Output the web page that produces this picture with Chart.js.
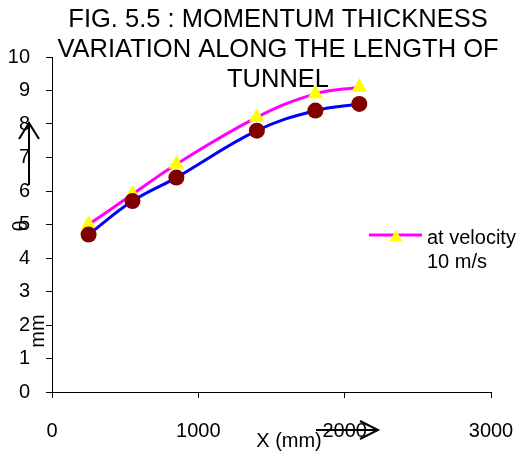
<!DOCTYPE html>
<html>
<head>
<meta charset="utf-8">
<script src="https://cdn.jsdelivr.net/npm/chart.js@4/dist/chart.umd.min.js"></script>
<style>
  html, body { margin: 0; padding: 0; background: #fff; }
  #wrap { width: 522px; height: 452px; }
</style>
</head>
<body>
<div id="wrap"><canvas id="thetaChart" width="522" height="452"></canvas></div>
<script>
// distance along the tunnel (mm) and momentum thickness (mm)
var xPos = [250, 550, 850, 1400, 1800, 2100];
var theta10 = [5.0, 5.9, 6.8, 8.2, 8.9, 9.1];
var thetaOther = [4.7, 5.7, 6.4, 7.8, 8.4, 8.6];

var titleLines = ["FIG. 5.5 : MOMENTUM THICKNESS", "VARIATION ALONG THE LENGTH OF", "TUNNEL"];
var legendLines = ["at velocity", "10 m/s"];

var FONT = "'Liberation Sans', Arial, sans-serif";
Chart.defaults.font.family = FONT;
Chart.defaults.color = "#000";

function toPoints(xs, ys){
    var pts = [];
    for(var i=0; i<xs.length; i++){
        pts.push({x: xs[i], y: ys[i]});
    }
    return pts;
}

// title, legend and the axis captions with arrows sit on top of the plot
var overlay = {
    id: "overlay",
    afterDraw: function(chart){
        var ctx = chart.ctx;
        ctx.save();
        ctx.fillStyle = "#000";
        ctx.textAlign = "center";
        ctx.textBaseline = "middle";
        ctx.font = "25.5px " + FONT;
        var ty = [20, 50, 80];
        for(var i=0; i<titleLines.length; i++){
            ctx.fillText(titleLines[i], 278, ty[i]);
        }

        // legend entry
        ctx.strokeStyle = "#ff00ff";
        ctx.lineWidth = 3;
        ctx.beginPath();
        ctx.moveTo(369, 235);
        ctx.lineTo(422, 235);
        ctx.stroke();
        ctx.fillStyle = "#ffff00";
        ctx.beginPath();
        ctx.moveTo(396, 230);
        ctx.lineTo(402.5, 241);
        ctx.lineTo(389.5, 241);
        ctx.closePath();
        ctx.fill();
        ctx.fillStyle = "#000";
        ctx.textAlign = "left";
        ctx.font = "20px " + FONT;
        ctx.fillText(legendLines[0], 427, 238);
        ctx.fillText(legendLines[1], 427, 262);

        // x axis caption
        ctx.textAlign = "center";
        ctx.fillText("X (mm)", 289, 441);
        ctx.strokeStyle = "#000";
        ctx.lineWidth = 2;
        ctx.beginPath();
        ctx.moveTo(316, 430);
        ctx.lineTo(378, 430);
        ctx.moveTo(360, 421);
        ctx.lineTo(378, 430);
        ctx.lineTo(360, 439);
        ctx.stroke();

        // y axis caption
        ctx.beginPath();
        ctx.moveTo(29, 185);
        ctx.lineTo(29, 123);
        ctx.moveTo(19, 139);
        ctx.lineTo(29, 123);
        ctx.lineTo(39, 139);
        ctx.stroke();
        ctx.save();
        ctx.translate(21, 226);
        ctx.rotate(-Math.PI / 2);
        ctx.fillText("\u03b8", 0, 0);
        ctx.restore();
        ctx.save();
        ctx.translate(38, 331);
        ctx.rotate(-Math.PI / 2);
        ctx.fillText("mm", 0, 0);
        ctx.restore();
        ctx.restore();
    }
};

var chart = new Chart("thetaChart", {
    type: "line",
    data: {
        datasets: [
            {
                label: "thetaOther",
                data: toPoints(xPos, thetaOther),
                borderColor: "#0000ff",
                borderWidth: 3,
                pointStyle: "circle",
                pointRadius: 8,
                pointBackgroundColor: "#800000",
                pointBorderColor: "#800000",
                pointBorderWidth: 0,
                tension: 0.4
            },
            {
                label: "at velocity 10 m/s",
                data: toPoints(xPos, theta10),
                borderColor: "#ff00ff",
                borderWidth: 3,
                pointStyle: "triangle",
                pointRadius: 9,
                pointBackgroundColor: "#ffff00",
                pointBorderColor: "#ffff00",
                pointBorderWidth: 0,
                tension: 0.4
            }
        ]
    },
    options: {
        responsive: false,
        animation: false,
        layout: {
            padding: {top: 57, right: 31, left: 0, bottom: 0}
        },
        plugins: {
            legend: {display: false},
            title: {display: false},
            tooltip: {enabled: false}
        },
        scales: {
            x: {
                type: "linear",
                min: 0,
                max: 3000,
                ticks: {
                    stepSize: 1000, padding: 21, font: {size: 20}, color: "#000", maxRotation: 0,
                    callback: function(v){ return String(v); }
                },
                grid: {drawOnChartArea: false, color: "#000", tickLength: 6},
                border: {color: "#000", width: 1},
                afterFit: function(scale){
                    scale.height = 60;
                    scale.paddingLeft = 0;
                    scale.paddingRight = 0;
                }
            },
            y: {
                min: 0,
                max: 10,
                ticks: {stepSize: 1, padding: 16, font: {size: 20}, color: "#000"},
                grid: {drawOnChartArea: false, color: "#000", tickLength: 6},
                border: {color: "#000", width: 1},
                afterFit: function(scale){
                    scale.width = 52;
                    scale.paddingTop = 0;
                    scale.paddingBottom = 0;
                }
            }
        }
    },
    plugins: [overlay]
});
</script>
</body>
</html>
